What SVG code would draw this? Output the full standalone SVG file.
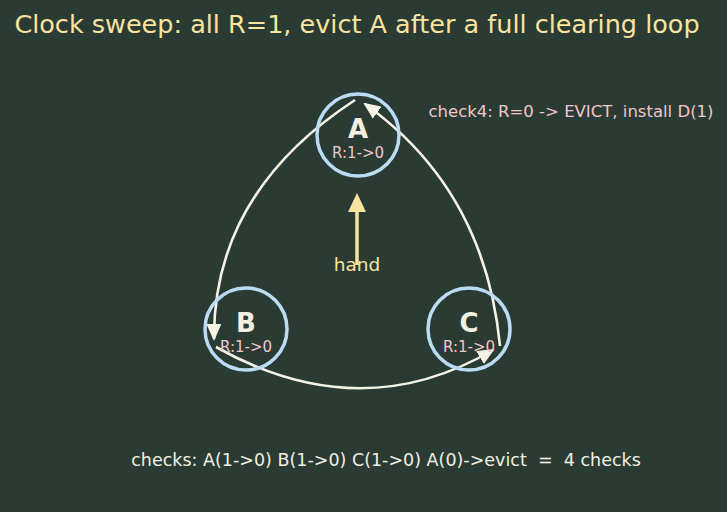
<svg xmlns="http://www.w3.org/2000/svg" width="727" height="512" viewBox="0 0 727 512">
<style>
text{font-family:"DejaVu Sans","Noto Sans",sans-serif}
.node circle{fill:none;stroke:#bcdcf5;stroke-width:3.5}
.lbl{font-size:26px;font-weight:bold;fill:#f3efe2;text-anchor:middle}
.sub{font-size:15px;fill:#f2c6cb;text-anchor:middle}
.conn{fill:none;stroke:#f5f2e6;stroke-width:2.6}
</style>
<defs>
<marker id="ah" viewBox="0 0 17 15" refX="15" refY="7.5" markerWidth="17" markerHeight="15" markerUnits="userSpaceOnUse" orient="auto">
<path d="M0,0 L17,7.5 L0,15 z" fill="#f5f2e6"/>
</marker>
</defs>
<rect width="727" height="512" fill="#2a3b33"/>
<text x="357" y="33" font-size="25.5" fill="#fbe3a0" text-anchor="middle">Clock sweep: all R=1, evict A after a full clearing loop</text>
<g id="connectors">
<path class="conn" d="M355,100 Q213,193 214,339" marker-end="url(#ah)"/>
<path class="conn" d="M216,347 Q360,428 493,350" marker-end="url(#ah)"/>
<path class="conn" d="M500,346 Q485,190 365,104" marker-end="url(#ah)"/>
</g>
<g id="A" class="node"><circle cx="358" cy="135" r="41"/><text class="lbl" x="358" y="138">A</text><text class="sub" x="358" y="158">R:1-&gt;0</text></g>
<g id="B" class="node"><circle cx="246" cy="329" r="41"/><text class="lbl" x="246" y="332">B</text><text class="sub" x="246" y="352">R:1-&gt;0</text></g>
<g id="C" class="node"><circle cx="469" cy="329" r="41"/><text class="lbl" x="469" y="332">C</text><text class="sub" x="469" y="352">R:1-&gt;0</text></g>
<g id="hand">
<line x1="357" y1="265" x2="357" y2="210" stroke="#fbe3a0" stroke-width="3.5"/>
<path d="M348,212 L357,193 L366,212 z" fill="#fbe3a0"/>
<text x="357" y="271" font-size="18.5" fill="#fbe3a0" text-anchor="middle">hand</text>
</g>
<text x="571" y="117" font-size="16.5" fill="#f2c6cb" text-anchor="middle">check4: R=0 -&gt; EVICT, install D(1)</text>
<text x="386" y="466" font-size="17.5" fill="#f3efe2" text-anchor="middle" xml:space="preserve">checks: A(1-&gt;0) B(1-&gt;0) C(1-&gt;0) A(0)-&gt;evict  =  4 checks</text>
</svg>
